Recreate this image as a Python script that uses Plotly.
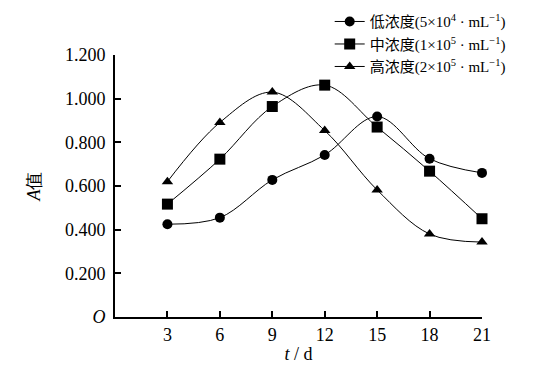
import plotly.graph_objects as go

days = [3, 6, 9, 12, 15, 18, 21]
low = [0.425, 0.455, 0.628, 0.742, 0.918, 0.725, 0.660]
mid = [0.517, 0.723, 0.964, 1.062, 0.870, 0.668, 0.450]
high = [0.620, 0.891, 1.030, 0.854, 0.582, 0.380, 0.343]

names = [
    "低浓度(5×10<sup>4</sup> · mL<sup>−1</sup>)",
    "中浓度(1×10<sup>5</sup> · mL<sup>−1</sup>)",
    "高浓度(2×10<sup>5</sup> · mL<sup>−1</sup>)",
]
symbols = ["circle", "square", "triangle-up"]
sizes = [10, 11, 10]
y_ticks = [0, 0.2, 0.4, 0.6, 0.8, 1.0, 1.2]
y_ticktext = ["<i>O</i>", "0.200", "0.400", "0.600", "0.800", "1.000", "1.200"]

fig = go.Figure()
for ys, nm, sym, sz in zip([low, mid, high], names, symbols, sizes):
    fig.add_trace(go.Scatter(
        x=days, y=ys, name=nm, mode="lines+markers",
        line=dict(color="black", width=1, shape="spline", smoothing=1.0),
        marker=dict(symbol=sym, size=sz, color="black"),
        cliponaxis=False,
    ))

serif = "Liberation Serif, Times New Roman, serif"
fig.update_layout(
    width=546, height=364,
    margin=dict(l=107, r=72, t=47, b=55, autoexpand=False),
    paper_bgcolor="white", plot_bgcolor="white",
    font=dict(family=serif, size=18, color="black"),
    showlegend=True,
    legend=dict(
        x=0.585, y=1.19, xanchor="left", yanchor="top",
        bgcolor="rgba(0,0,0,0)",
        font=dict(family="Liberation Serif, Noto Sans CJK SC", size=15),
        tracegroupgap=0, itemwidth=30,
    ),
    xaxis=dict(
        range=[0, 21], tickvals=days, ticktext=[str(d) for d in days],
        showline=True, linecolor="black", linewidth=2,
        ticks="inside", ticklen=6, tickwidth=2, tickcolor="black",
        showgrid=False, zeroline=False,
        title=dict(text="<i>t</i> / d", font=dict(size=18), standoff=4),
    ),
    yaxis=dict(
        range=[0, 1.2], tickvals=y_ticks, ticktext=y_ticktext,
        showline=True, linecolor="black", linewidth=2,
        ticks="inside", ticklen=6, tickwidth=2, tickcolor="black",
        ticklabelstandoff=4,
        showgrid=False, zeroline=False,
        title=dict(text="<i>A</i>值", font=dict(size=18), standoff=20),
    ),
)

fig.write_html("out.html")
